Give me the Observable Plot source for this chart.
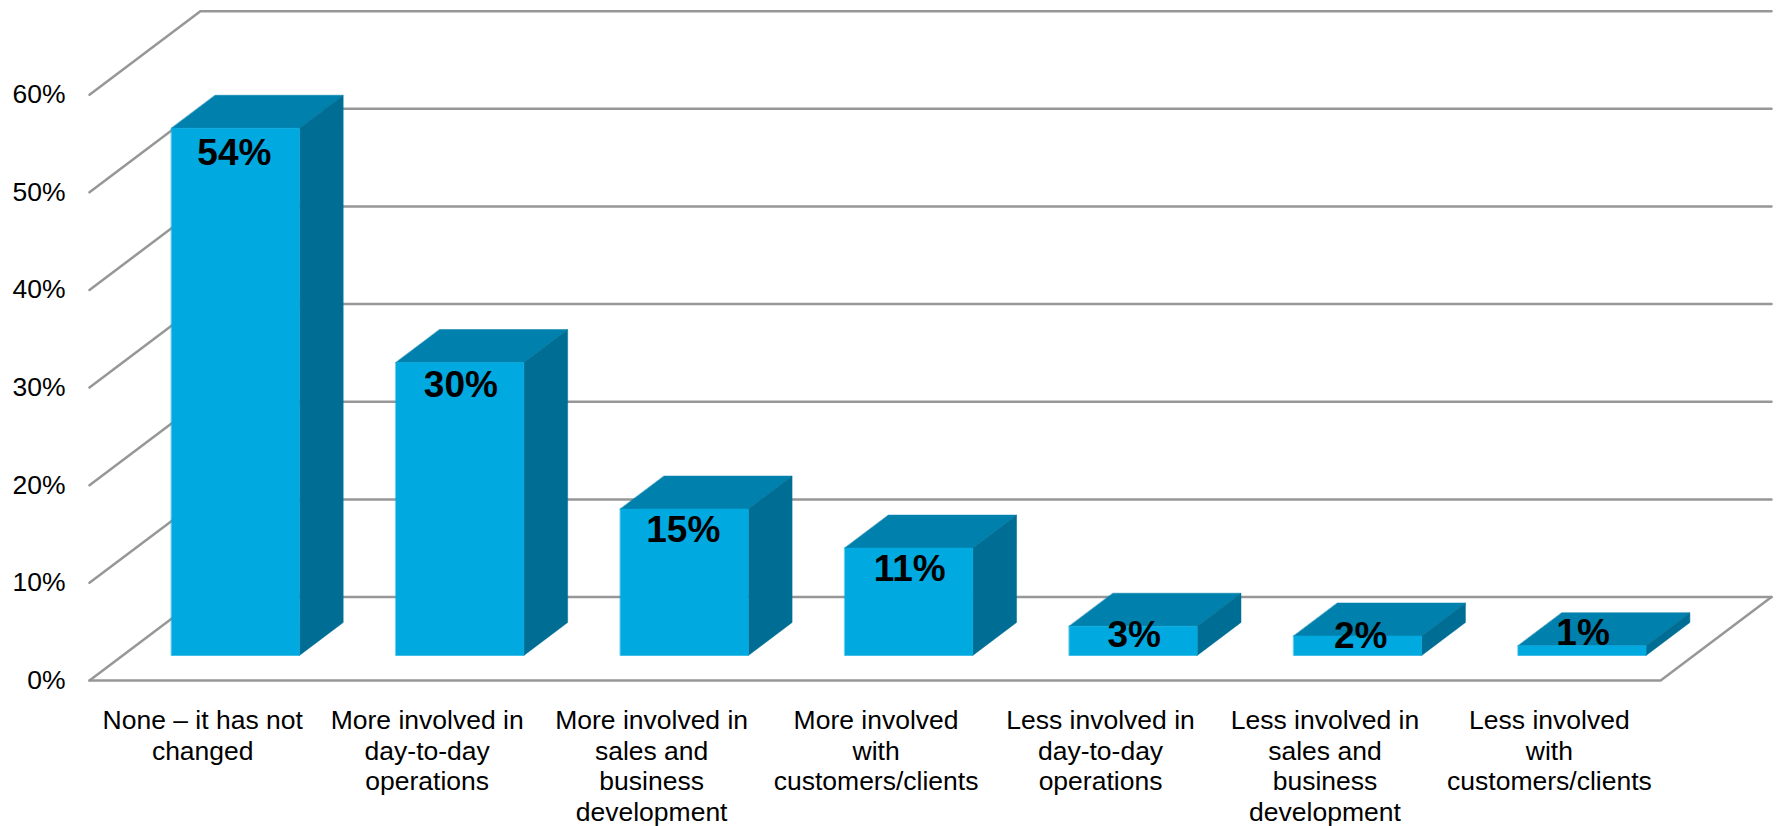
<!DOCTYPE html>
<html>
<head>
<meta charset="utf-8">
<script src="https://cdn.jsdelivr.net/npm/d3@7"></script>
<script src="https://cdn.jsdelivr.net/npm/@observablehq/plot@0.6"></script>
<style>
html,body{margin:0;padding:0;background:#fff;overflow:hidden}
svg{display:block}
</style>
</head>
<body>
<div id="chart"></div>
<script>
const categories = [
  "None – it has not\nchanged",
  "More involved in\nday-to-day\noperations",
  "More involved in\nsales and\nbusiness\ndevelopment",
  "More involved\nwith\ncustomers/clients",
  "Less involved in\nday-to-day\noperations",
  "Less involved in\nsales and\nbusiness\ndevelopment",
  "Less involved\nwith\ncustomers/clients"
];
const values = [54, 30, 15, 11, 3, 2, 1];
const yTicks = [0, 10, 20, 30, 40, 50, 60];

// Oblique projection of the 3D chart: depth d (0 front .. 1 back) shifts a point
// right and up, expressed in category and percent units.
const depthX = 0.494, depthY = 8.55;
const barFront = 0.3, barBack = 0.695;
const barStart = 0.2167, barEnd = 0.787;
const labelDrop = [25, 23, 21, 21, 9, 0, -13];
const labelShift = [-1, 1, -1, 1, 1, 3, 1];
const font = "Liberation Sans, Arial, sans-serif";
const gridColor = "#979797";
const n = categories.length;
const P = (x, y, d) => ({x: x + d * depthX, y: y + d * depthY});

const grid = yTicks.flatMap(t => [
  {...P(0, t, 0), t}, {...P(0, t, 1), t}, {...P(n, t, 1), t}
]);
const floor = [P(0, 0, 0), P(n, 0, 0), P(n, 0, 1)];

const face = f => values.flatMap((v, i) => f(i + barStart, i + barEnd, v).map(p => ({...p, i})));
const fronts = face((a, b, v) => [P(a, 0, barFront), P(b, 0, barFront), P(b, v, barFront), P(a, v, barFront)]);
const tops   = face((a, b, v) => [P(a, v, barFront), P(b, v, barFront), P(b, v, barBack), P(a, v, barBack)]);
const sides  = face((a, b, v) => [P(b, 0, barFront), P(b, 0, barBack), P(b, v, barBack), P(b, v, barFront)]);
const faceMark = (data, fill) => Plot.line(data, {
  x: "x", y: "y", z: "i", fill, stroke: fill, strokeWidth: 0.5, curve: "linear-closed"
});

const chart = Plot.plot({
  width: 1777, height: 826,
  marginLeft: 89, marginRight: 6, marginTop: 10.7, marginBottom: 146,
  style: {fontFamily: font, background: "#fff"},
  x: {domain: [0, n + depthX], axis: null},
  y: {domain: [0, 60 + depthY], axis: null},
  marks: [
    Plot.line(grid, {x: "x", y: "y", z: "t", stroke: gridColor, strokeWidth: 2.5}),
    Plot.line(floor, {x: "x", y: "y", stroke: gridColor, strokeWidth: 2.5}),
    faceMark(tops, "#0080AC"),
    faceMark(sides, "#006E94"),
    faceMark(fronts, "#00A9E0"),
    Plot.axisY(yTicks, {
      tickSize: 0, tickPadding: 24, tickFormat: d => d + "%", fontSize: 26.5,
      fill: "#000", label: null
    }),
    Plot.axisX(categories.map((_, i) => i + 0.5), {
      tickSize: 0, tickPadding: 27, dx: 1, tickFormat: d => categories[d - 0.5], fontSize: 26.5,
      lineHeight: 1.15, lineAnchor: "top", fill: "#000", label: null
    }),
    ...values.map((v, i) => Plot.text([v], {
      x: () => i + (barStart + barEnd) / 2 + barFront * depthX,
      y: () => v + barFront * depthY,
      text: d => d + "%",
      dx: labelShift[i],
      dy: labelDrop[i],
      fontSize: 37, fontWeight: "bold", fill: "#000"
    }))
  ]
});
document.getElementById("chart").append(chart);
</script>
</body>
</html>
